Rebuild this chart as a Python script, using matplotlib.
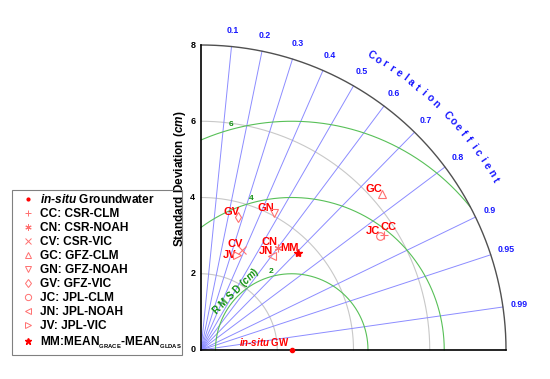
import numpy as np
import matplotlib.pyplot as plt
from matplotlib.lines import Line2D
from matplotlib.patches import Rectangle

plt.rcParams['font.family'] = 'Liberation Sans'
plt.rcParams['font.weight'] = 'bold'
plt.rcParams['mathtext.fontset'] = 'custom'
plt.rcParams['mathtext.rm'] = 'Liberation Sans:bold'
plt.rcParams['mathtext.it'] = 'Liberation Sans:italic:bold'
plt.rcParams['mathtext.bf'] = 'Liberation Sans:bold'

# data
codes = ['CC', 'CN', 'CV', 'GC', 'GN', 'GV', 'JC', 'JN', 'JV', 'MM']
names = ['CSR-CLM', 'CSR-NOAH', 'CSR-VIC', 'GFZ-CLM', 'GFZ-NOAH', 'GFZ-VIC',
         'JPL-CLM', 'JPL-NOAH', 'JPL-VIC', 'MEAN']
std_dev = [5.68, 3.36, 2.83, 6.26, 4.08, 3.61, 5.56, 3.09, 2.67, 3.61]
corr = [0.847, 0.60, 0.376, 0.757, 0.47, 0.27, 0.843, 0.60, 0.357, 0.707]
ref_std = 2.38

corr_ticks = [0.1, 0.2, 0.3, 0.4, 0.5, 0.6, 0.7, 0.8, 0.9, 0.95, 0.99]
std_ticks = [0, 2, 4, 6, 8]
rmsd_levels = [2, 4, 6]
max_std = 8

markers = ['+', (6, 2, 0), 'x', '^', 'v', 'd', 'o', '<', '>', '*']
# label offsets in pixels from each marker
offsets = {'CC': (4, 8), 'CN': (-8, 6), 'CV': (-6, 6), 'GC': (-8, 5), 'GN': (-8, 5),
           'GV': (-7, 5), 'JC': (-7, 5), 'JN': (-6, 5), 'JV': (-8, 0), 'MM': (-9, 5)}

mk_col = '#ff7070'
blue = '#1818ff'
green = '#58c058'

fig = plt.figure(figsize=(5.5, 3.79), dpi=100)
ax = fig.add_axes([201 / 550, 29 / 379, 305 / 550, 305 / 379])
ax.set_xlim(0, max_std)
ax.set_ylim(0, max_std)
ax.axis('off')

th = np.linspace(0, np.pi / 2, 300)

# std dev arcs
for s in [2, 4, 6]:
    ax.plot(s * np.cos(th), s * np.sin(th), color='#c8c8c8', lw=0.8, clip_on=False)

# correlation rays + labels
for c in corr_ticks:
    a = np.arccos(c)
    ax.plot([0, max_std * np.cos(a)], [0, max_std * np.sin(a)], color='#8c8cff', lw=0.7, clip_on=False)
    ax.text(8.42 * np.cos(a), 8.42 * np.sin(a), f'{c:g}', color=blue, fontsize=6.3,
            ha='center', va='center')

# RMSD arcs around reference
tt = np.linspace(0, np.pi, 600)
for r in rmsd_levels:
    x = ref_std + r * np.cos(tt)
    y = r * np.sin(tt)
    bad = (x < 0) | (np.hypot(x, y) > max_std)
    x[bad] = np.nan
    y[bad] = np.nan
    ax.plot(x, y, color=green, lw=0.8, clip_on=False)
    la = np.deg2rad(105)
    ax.text(ref_std + (r + 0.12) * np.cos(la), (r + 0.12) * np.sin(la), str(r),
            color='#109010', fontsize=6, ha='center', va='center')
ax.text(0.92, 1.55, r'R M S D ($cm$)', color='#109010', fontsize=7, rotation=45,
        ha='center', va='center')

# frame
ax.plot(max_std * np.cos(th), max_std * np.sin(th), color='#505050', lw=1, clip_on=False)
ax.plot([0, 0], [0, max_std], color='k', lw=1.2, clip_on=False)
ax.plot([0, max_std], [0, 0], color='k', lw=1.2, clip_on=False)

for s in std_ticks:
    ax.text(-0.15, s, str(s), fontsize=6.5, ha='right', va='center')
ax.text(-0.55, 4.5, r'Standard Deviation ($cm$)', fontsize=8.5, rotation=90,
        ha='center', va='center', zorder=10)

# curved title
title = 'Correlation Coefficient'
angs = np.linspace(60, 30, len(title))
for ch, ang in zip(title, angs):
    a = np.deg2rad(ang)
    ax.text(8.92 * np.cos(a), 8.92 * np.sin(a), ch, color=blue, fontsize=7.5,
            rotation=ang - 90, ha='center', va='center')

# reference point
ax.plot(ref_std, 0, 'o', color='red', ms=3, clip_on=False, zorder=5)
ax.text(ref_std - 0.04, 0.05, r'$in$-$situ$ GW', color='red', fontsize=7,
        ha='right', va='bottom')

# model points
for code, s, c, m in zip(codes, std_dev, corr, markers):
    a = np.arccos(c)
    x, y = s * np.cos(a), s * np.sin(a)
    if code == 'MM':
        ax.plot(x, y, marker=m, color='red', ms=6, ls='none', clip_on=False, zorder=6)
    else:
        ax.plot(x, y, marker=m, color=mk_col, mfc='none', ms=5.5, mew=0.8, ls='none',
                clip_on=False, zorder=6)
    ax.annotate(code, (x, y), xytext=offsets[code], textcoords='offset pixels',
                color='red', fontsize=8, ha='center', va='center')

# legend
handles = [Line2D([], [], ls='none', marker='.', color='red', ms=4)]
labels = [r'$in$-$situ$ Groundwater']
for code, name, m in zip(codes, names, markers):
    if code == 'MM':
        handles.append(Line2D([], [], ls='none', marker='*', color='red', ms=5))
        labels.append(r'MM:MEAN$_{{}_{\mathrm{GRACE}}}$-MEAN$_{{}_{\mathrm{GLDAS}}}$')
    else:
        handles.append(Line2D([], [], ls='none', marker=m, color=mk_col, mfc='none',
                              ms=4.5, mew=0.7))
        labels.append(f'{code}: {name}')
fig.patches.append(Rectangle((12 / 550, 1 - 355 / 379), 170 / 550, 165 / 379,
                             transform=fig.transFigure, fill=False, ec='#808080', lw=0.8))
fig.legend(handles, labels, loc='upper left', bbox_to_anchor=(12 / 550, 1 - 188 / 379),
           fontsize=8.6, frameon=False, labelspacing=0.17, handlelength=1.8,
           handletextpad=0.15, borderpad=0.4, borderaxespad=0)

fig.savefig('out.png', dpi=100)
